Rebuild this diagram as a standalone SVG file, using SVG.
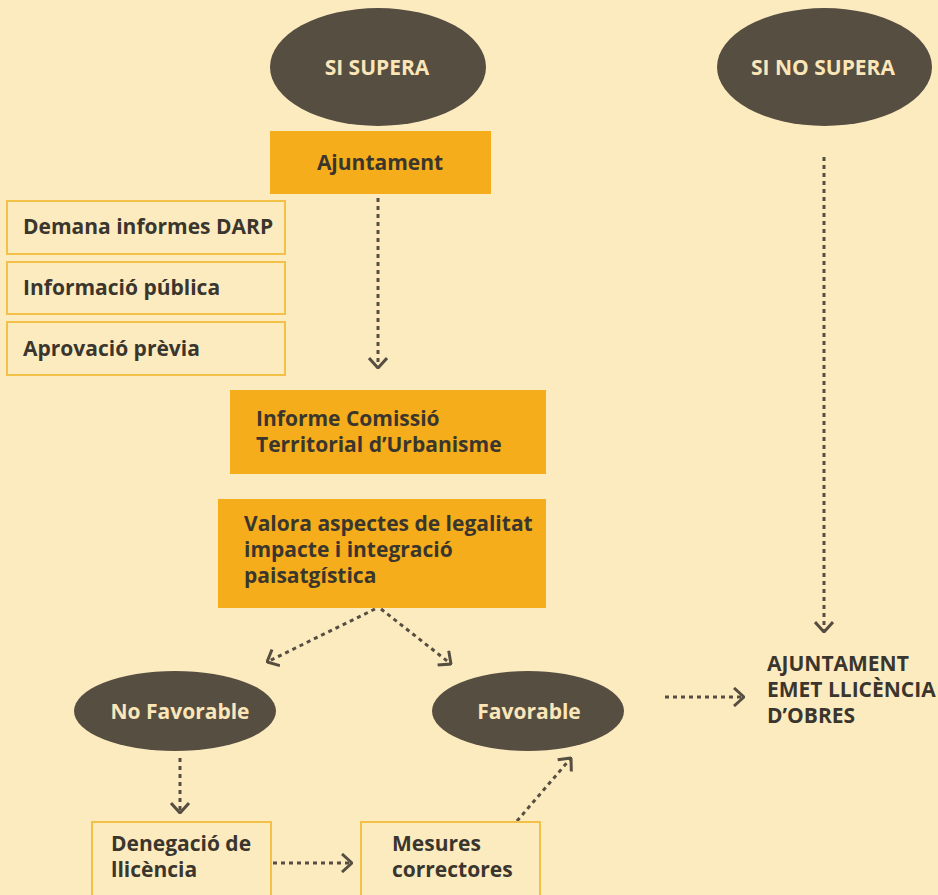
<svg xmlns="http://www.w3.org/2000/svg" width="938" height="895" viewBox="0 0 938 895">
<style>
.bg{fill:#FDEBC0}
.ell{fill:#564E40}
.et{fill:#FBE6B9;font-family:"Open Sans","Noto Sans",sans-serif;font-weight:700;font-size:21px;text-anchor:middle}
.ob{fill:#F5AD1B}
.lb{fill:#FDEBC0;stroke:#F3C048;stroke-width:2}
.t{fill:#3A362D;font-family:"Open Sans","Noto Sans",sans-serif;font-weight:700;font-size:21px}
.c{fill:none;stroke:#564E40;stroke-width:3;stroke-dasharray:4 4}
</style>
<defs>
<marker id="ah" viewBox="0 0 12 20" refX="11" refY="10" markerWidth="12" markerHeight="20" markerUnits="userSpaceOnUse" orient="auto">
<path d="M1,1 L11,10 L1,19" fill="none" stroke="#564E40" stroke-width="3"/>
</marker>
</defs>
<rect class="bg" x="0" y="0" width="938" height="895"/>
<g id="connectors">
<line class="c" x1="378" y1="198" x2="378" y2="368" marker-end="url(#ah)"/>
<line class="c" x1="824" y1="157" x2="824" y2="632" marker-end="url(#ah)"/>
<line class="c" x1="375" y1="609" x2="267" y2="662" marker-end="url(#ah)"/>
<line class="c" x1="381" y1="609" x2="451" y2="664" marker-end="url(#ah)"/>
<line class="c" x1="180" y1="758" x2="180" y2="813" marker-end="url(#ah)"/>
<line class="c" x1="273" y1="863" x2="352" y2="863" marker-end="url(#ah)"/>
<line class="c" x1="517" y1="821" x2="571" y2="758" marker-end="url(#ah)"/>
<line class="c" x1="665" y1="697" x2="744" y2="697" marker-end="url(#ah)"/>
</g>
<g id="si-supera">
<ellipse class="ell" cx="378" cy="67" rx="108" ry="59"/>
<text class="et" x="377" y="75">SI SUPERA</text>
</g>
<g id="si-no-supera">
<ellipse class="ell" cx="824.5" cy="67" rx="107.5" ry="59"/>
<text class="et" x="823" y="75">SI NO SUPERA</text>
</g>
<g id="ajuntament">
<rect class="ob" x="270" y="131" width="221" height="63"/>
<text class="t" x="380" y="170" text-anchor="middle" font-size="22">Ajuntament</text>
</g>
<g id="demana">
<rect class="lb" x="7" y="201" width="278" height="53"/>
<text class="t" x="23" y="234">Demana informes DARP</text>
</g>
<g id="informacio">
<rect class="lb" x="7" y="262" width="278" height="52"/>
<text class="t" x="23" y="295">Informació pública</text>
</g>
<g id="aprovacio">
<rect class="lb" x="7" y="322" width="278" height="53"/>
<text class="t" x="23" y="356">Aprovació prèvia</text>
</g>
<g id="informe">
<rect class="ob" x="230" y="390" width="316" height="84"/>
<text class="t" x="256" y="426">Informe Comissió</text>
<text class="t" x="256" y="452">Territorial d’Urbanisme</text>
</g>
<g id="valora">
<rect class="ob" x="218" y="499" width="328" height="109"/>
<text class="t" x="244" y="531">Valora aspectes de legalitat</text>
<text class="t" x="244" y="557">impacte i integració</text>
<text class="t" x="244" y="583">paisatgística</text>
</g>
<g id="no-favorable">
<ellipse class="ell" cx="175" cy="711" rx="101" ry="40"/>
<text class="et" x="180" y="719">No Favorable</text>
</g>
<g id="favorable">
<ellipse class="ell" cx="528" cy="711" rx="96" ry="40"/>
<text class="et" x="529" y="719">Favorable</text>
</g>
<g id="denegacio">
<rect class="lb" x="92" y="822" width="179" height="80"/>
<text class="t" x="111" y="851">Denegació de</text>
<text class="t" x="111" y="877">llicència</text>
</g>
<g id="mesures">
<rect class="lb" x="361" y="822" width="179" height="80"/>
<text class="t" x="392" y="851">Mesures</text>
<text class="t" x="392" y="877">correctores</text>
</g>
<g id="emet">
<text class="t" x="767" y="671">AJUNTAMENT</text>
<text class="t" x="767" y="697">EMET LLICÈNCIA</text>
<text class="t" x="767" y="723">D’OBRES</text>
</g>
</svg>
